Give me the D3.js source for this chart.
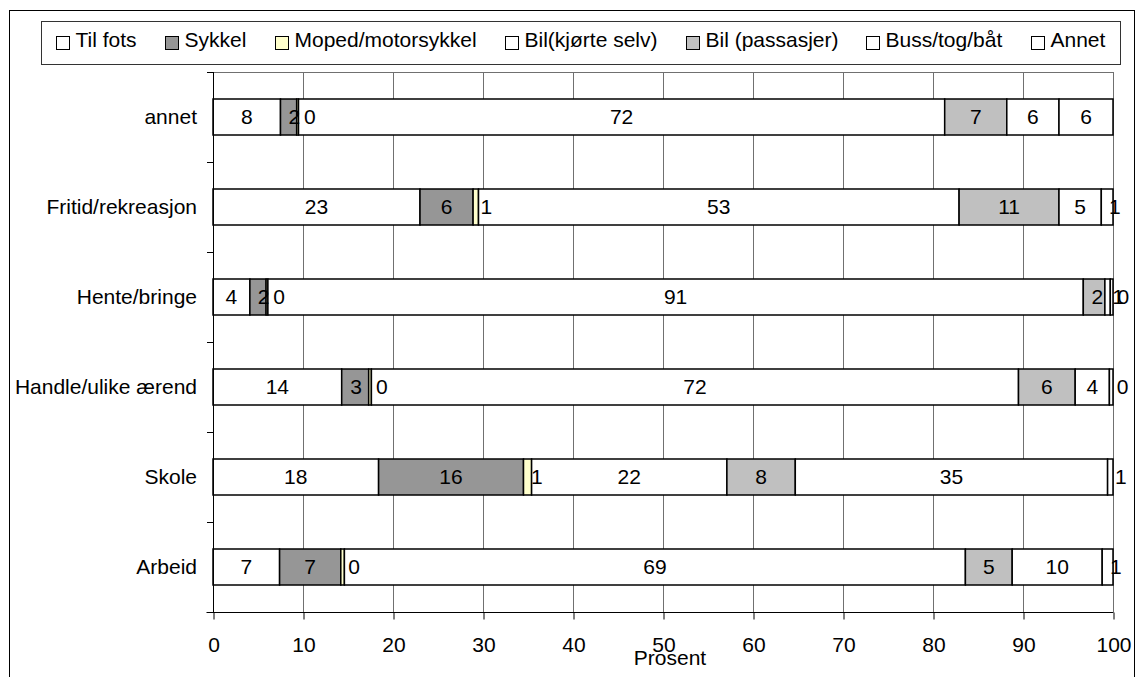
<!DOCTYPE html>
<html>
<head>
<meta charset="utf-8">
<script src="https://cdn.jsdelivr.net/npm/d3@7"></script>
<style>
  html, body { margin: 0; padding: 0; background: #fff; }
  svg text { font-family: "Liberation Sans", Arial, sans-serif; fill: #000; }
</style>
</head>
<body>
<svg id="chart" width="1136" height="677"></svg>
<script>
// Trip purposes (top to bottom) and transport modes (stack order)
const categories = ["annet", "Fritid/rekreasjon", "Hente/bringe", "Handle/ulike ærend", "Skole", "Arbeid"];
const modes = ["Til fots", "Sykkel", "Moped/motorsykkel", "Bil(kjørte selv)", "Bil (passasjer)", "Buss/tog/båt", "Annet"];

// Share of trips (percent) per mode, one value per purpose
const tilFots      = [7.5, 23.0, 4.1, 14.3, 18.4, 7.4];
const sykkel       = [1.8, 5.9, 1.8, 3.0, 16.1, 6.8];
const moped        = [0.2, 0.6, 0.2, 0.3, 0.9, 0.4];
const bilSelv      = [71.8, 53.4, 90.6, 71.9, 21.7, 69.0];
const bilPassasjer = [6.9, 11.1, 2.4, 6.3, 7.6, 5.2];
const bussTogBat   = [5.8, 4.7, 0.6, 3.8, 34.7, 10.0];
const annet        = [6.0, 1.3, 0.3, 0.4, 0.6, 1.2];

const xTicks = [0, 10, 20, 30, 40, 50, 60, 70, 80, 90, 100];
const xTitle = "Prosent";

const seriesValues = [tilFots, sykkel, moped, bilSelv, bilPassasjer, bussTogBat, annet];
const fills = ["#ffffff", "#969696", "#ffffcc", "#ffffff", "#c0c0c0", "#ffffff", "#ffffff"];

const rows = categories.map((c, i) => {
  const r = { category: c };
  modes.forEach((m, j) => { r[m] = seriesValues[j][i]; });
  return r;
});

const svg = d3.select("#chart");
const W = 1136, H = 677;
const FONT = 21;

// outer chart frame
svg.append("rect")
  .attr("x", 9.5).attr("y", 10.5)
  .attr("width", 1125).attr("height", 720)
  .attr("fill", "#fff").attr("stroke", "#000").attr("stroke-width", 1);

const plot = { left: 213, right: 1113, top: 72, bottom: 612 };

const x = d3.scaleLinear().domain([0, 100]).range([plot.left, plot.right]);
const y = d3.scaleBand().domain(categories)
  .range([plot.top, plot.bottom])
  .paddingInner(0.6).paddingOuter(0.3);

// vertical gridlines
svg.append("g")
  .selectAll("line")
  .data(xTicks.filter(t => t > 0))
  .join("line")
  .attr("x1", d => Math.round(x(d)) + 0.5)
  .attr("x2", d => Math.round(x(d)) + 0.5)
  .attr("y1", plot.top).attr("y2", plot.bottom)
  .attr("stroke", "#707070").attr("stroke-width", 1);

// plot area top edge
svg.append("line")
  .attr("x1", plot.left).attr("x2", plot.right + 1)
  .attr("y1", plot.top + 0.5).attr("y2", plot.top + 0.5)
  .attr("stroke", "#707070");

// stacked segments
const stacked = d3.stack().keys(modes)(rows);

const layers = svg.append("g")
  .selectAll("g")
  .data(stacked)
  .join("g")
  .attr("fill", (d, i) => fills[i]);

layers.selectAll("rect")
  .data(d => d)
  .join("rect")
  .attr("x", d => x(d[0]))
  .attr("width", d => Math.max(0, x(d[1]) - x(d[0])))
  .attr("y", d => y(d.data.category))
  .attr("height", y.bandwidth())
  .attr("stroke", "#000")
  .attr("stroke-width", 1.5);

// value labels; labels of narrow segments are nudged right off the segment edge
const labels = svg.append("g").attr("font-size", FONT).attr("text-anchor", "middle");
stacked.forEach((layer, li) => {
  layer.forEach(d => {
    const x0 = x(d[0]), x1 = x(d[1]);
    const w = x1 - x0;
    const shift = Math.max(0, 13 - 0.45 * w);
    labels.append("text")
      .attr("x", (x0 + x1) / 2 + shift)
      .attr("y", y(d.data.category) + y.bandwidth() / 2)
      .attr("dy", "0.35em")
      .text(Math.round(d[1] - d[0]));
  });
});

// y axis line and ticks at band boundaries
const step = y.step();
const yBounds = d3.range(categories.length + 1).map(i => plot.top + i * step);
svg.append("line")
  .attr("x1", plot.left + 0.5).attr("x2", plot.left + 0.5)
  .attr("y1", plot.top).attr("y2", plot.bottom + 1)
  .attr("stroke", "#000");
svg.append("g").selectAll("line")
  .data(yBounds)
  .join("line")
  .attr("x1", plot.left - 6).attr("x2", plot.left)
  .attr("y1", d => d + 0.5).attr("y2", d => d + 0.5)
  .attr("stroke", "#000");

// category labels
svg.append("g").attr("font-size", FONT).attr("text-anchor", "end")
  .selectAll("text")
  .data(categories)
  .join("text")
  .attr("x", plot.left - 16)
  .attr("y", d => y(d) + y.bandwidth() / 2)
  .attr("dy", "0.35em")
  .text(d => d);

// x axis
const xAxis = svg.append("g")
  .attr("transform", `translate(0.5,${plot.bottom + 0.5})`)
  .call(d3.axisBottom(x).tickValues(xTicks).tickSize(7).tickPadding(0).tickFormat(d3.format("d")));
xAxis.select(".domain").attr("d", `M${plot.left - 7},0H${plot.right}`).attr("stroke", "#000");
xAxis.selectAll(".tick line").attr("stroke", "#000");
xAxis.selectAll(".tick text")
  .attr("font-size", FONT)
  .attr("font-family", "Liberation Sans, Arial, sans-serif")
  .attr("y", 39).attr("dy", 0);

// axis title
svg.append("text")
  .attr("x", (plot.left + plot.right) / 2 + 7)
  .attr("y", 665)
  .attr("font-size", FONT)
  .attr("text-anchor", "middle")
  .text(xTitle);

// legend
const legend = { left: 41, top: 21, right: 1120, bottom: 64 };
svg.append("rect")
  .attr("x", legend.left + 0.5).attr("y", legend.top + 0.5)
  .attr("width", legend.right - legend.left).attr("height", legend.bottom - legend.top)
  .attr("fill", "#fff").attr("stroke", "#333");

const lg = svg.append("g").attr("font-size", FONT);
const items = lg.selectAll("g").data(modes).join("g");
items.append("rect")
  .attr("width", 13).attr("height", 13)
  .attr("y", 36.5)
  .attr("fill", (d, i) => fills[i])
  .attr("stroke", "#000");
items.append("text")
  .attr("x", 19)
  .attr("y", 46.5)
  .text(d => d);

// spread legend entries evenly between the first swatch and the last label end
const widths = [];
items.each(function () { widths.push(19 + this.querySelector("text").getComputedTextLength()); });
const startX = 56, endX = 1105;
const gap = (endX - startX - d3.sum(widths)) / (modes.length - 1);
let cx = startX;
items.attr("transform", (d, i) => {
  const t = `translate(${Math.round(cx) + 0.5},0)`;
  cx += widths[i] + gap;
  return t;
});
</script>
</body>
</html>
